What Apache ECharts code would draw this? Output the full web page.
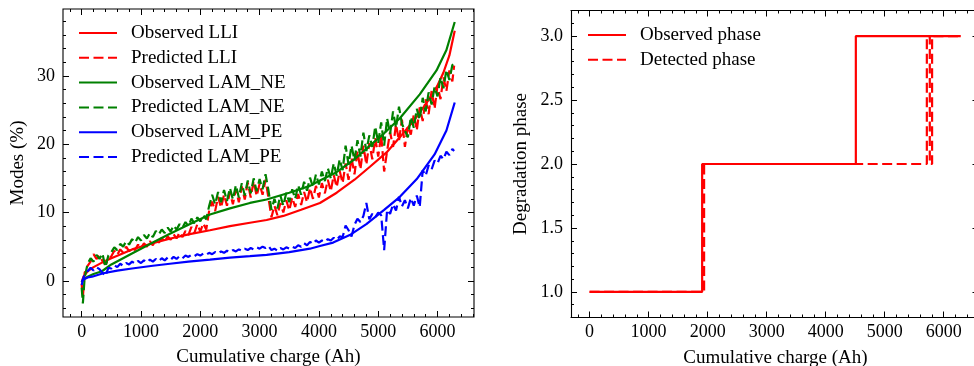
<!DOCTYPE html>
<html><head><meta charset="utf-8">
<script src="https://cdn.jsdelivr.net/npm/echarts@6/dist/echarts.min.js"></script>
<style>html,body{margin:0;padding:0;background:#fff}#c{width:974px;height:366px}</style>
</head><body><div id="c"></div>
<script>
// ---------------- data ----------------
const charge = [0,20,50,100,150,200,250,300,350,400,450,
500,550,600,650,700,750,800,850,900,950,
1000,1050,1100,1150,1200,1250,1300,1350,1400,1450,
1500,1550,1600,1650,1700,1750,1800,1850,1900,1950,
2000,2050,2100,2150,2200,2250,2300,2350,2400,2450,
2500,2550,2600,2650,2700,2750,2800,2850,2900,2950,
3000,3050,3100,3150,3200,3250,3300,3350,3400,3450,
3500,3550,3600,3650,3700,3750,3800,3850,3900,3950,
4000,4050,4100,4150,4200,4250,4300,4350,4400,4450,
4500,4550,4600,4650,4700,4750,4800,4850,4900,4950,
5000,5050,5100,5150,5200,5250,5300,5350,5400,5450,
5500,5550,5600,5650,5700,5750,5800,5850,5900,5950,
6000,6050,6100,6150,6200,6250,6280];

const predLLI = [-0.5,-2.4,1.2, 2.2,2.8,3.9,3.2,3.7,2.9,2.4,3.1,
3.6,4.4,3.8,4.6,4.1,5.0,4.3,4.9,4.5,5.3,
4.8,5.5,5.0,5.8,5.2,6.0,5.6,6.3,5.7,6.5,
6.0,6.8,6.2,7.1,6.4,7.3,6.7,7.9,7.0,8.3,
7.2,8.4,7.5,10.3,11.6,10.2,12.3,10.7,12.6,11.0,
13.0,11.2,13.4,11.5,13.8,11.9,14.4,12.2,14.6,12.4,
14.2,12.6,14.8,12.1,9.3,11.0,9.6,11.4,10.0,11.8,
10.3,12.2,10.8,12.7,11.1,13.0,11.5,13.6,12.0,13.9,
12.2,14.3,12.8,14.8,13.1,15.5,13.7,16.1,14.3,17.2,
14.8,18.0,15.6,18.9,16.3,19.8,17.0,20.2,17.8,20.9,
18.2,21.4,16.0,19.0,21.8,19.6,22.9,20.5,23.6,19.6,
22.6,21.4,24.4,22.0,25.4,23.4,26.6,24.4,27.8,25.2,
28.6,26.6,29.8,27.8,30.8,29.2,31.5];

const predNE = [-1.0,-3.3,0.5, 2.5,3.3,2.8,3.8,3.2,4.0,2.0,3.7,
4.2,4.9,4.5,5.4,5.0,5.8,5.3,6.1,5.6,6.4,
5.9,6.7,6.2,7.0,6.4,7.3,6.8,7.5,7.0,7.8,
7.2,8.1,7.5,8.3,7.8,8.6,8.0,9.1,8.4,9.3,
8.7,9.6,9.0,11.0,12.6,11.2,13.0,11.5,13.3,11.7,
13.6,11.9,14.0,12.2,14.3,12.5,14.7,12.8,15.0,13.1,
14.9,13.4,15.6,13.2,10.4,12.0,10.6,12.5,11.0,12.9,
11.5,13.4,12.0,14.0,12.6,14.5,13.2,15.1,13.7,15.6,
14.1,16.0,14.6,16.5,15.0,17.2,15.4,17.8,16.2,19.8,
17.0,19.8,17.6,20.6,18.2,21.7,19.0,21.3,19.6,22.6,
20.2,23.2,19.8,23.8,21.5,24.8,22.4,25.5,23.0,22.0,
21.0,24.0,22.4,25.2,23.6,26.8,24.8,27.6,25.8,28.4,
27.0,29.8,28.2,30.9,29.4,31.6,31.8];

const predPE = [-0.6,0.2,0.9, 1.4,1.9,1.5,2.0,1.7,1.2,0.7,1.9,
1.8,2.3,2.0,2.5,2.2,2.6,2.4,2.8,2.5,2.9,
2.6,3.0,2.7,3.1,2.8,3.2,2.9,3.3,3.0,3.4,
3.1,3.5,3.2,3.6,3.3,3.7,3.5,3.8,3.6,3.9,
3.7,4.0,3.8,4.1,3.9,4.2,4.0,4.3,4.1,4.4,
4.2,4.5,4.3,4.6,4.4,4.7,4.5,4.8,4.6,4.9,
4.7,5.0,4.8,5.1,4.5,4.7,4.4,4.8,4.6,4.9,
4.7,5.0,4.8,5.2,5.0,5.5,5.2,5.7,5.4,5.9,
5.6,5.9,5.7,6.1,5.9,6.3,6.0,6.5,6.4,8.1,
7.4,6.5,8.2,9.1,8.6,9.5,11.4,9.0,9.8,9.3,
10.0,9.6,4.5,10.4,9.8,11.2,10.3,12.3,10.9,11.8,
10.6,12.1,11.0,12.5,10.8,16.2,15.4,16.9,16.3,17.6,
17.2,18.3,17.8,18.9,18.4,19.3,19.0];

const obsLLI = [[0,-0.2],[30,0.6],[100,1.4],[200,2.0],[350,2.7],[500,3.3],[850,4.6],[1200,5.5],[1500,6.2],[1800,6.8],[2163,7.4],[2500,8.0],[2837,8.5],[3118,8.9],[3400,9.5],[3700,10.4],[4017,11.4],[4300,12.9],[4600,14.8],[4860,16.7],[5141,18.8],[5400,21.4],[5650,24.0],[5850,26.5],[6000,28.6],[6100,30.5],[6200,33.0],[6290,36.6]];
const obsNE = [[0,-0.2],[30,0.2],[100,0.6],[200,1.0],[342,1.4],[500,2.4],[848,4.0],[1200,5.6],[1488,6.9],[1800,8.2],[2163,9.7],[2500,10.6],[2837,11.4],[3118,11.9],[3500,12.9],[3848,13.9],[4017,14.7],[4298,15.9],[4600,17.8],[4860,19.8],[5100,21.6],[5365,23.8],[5700,27.3],[5983,30.8],[6150,33.8],[6290,37.9]];
const obsPE = [[0,-0.1],[30,0.2],[100,0.5],[174,0.6],[364,1.1],[600,1.5],[848,1.8],[1200,2.2],[1488,2.5],[1800,2.8],[2163,3.1],[2500,3.4],[2837,3.6],[3118,3.8],[3500,4.2],[3848,4.7],[4017,5.1],[4240,5.6],[4520,6.7],[4800,8.3],[5100,10.4],[5365,12.3],[5650,14.9],[5950,18.5],[6150,22.0],[6290,26.1]];

const phaseObsX = [0,1907,1907,4511,4511,6289];
const phaseObsY = [1,1,2,2,3,3];
const phaseDetX = [0,1940,1940,5714,5714,5764,5764,5803,5803,6289];
const phaseDetY = [1,1,2,2,3,3,2,2,3,3];

const xTicks = [0,1000,2000,3000,4000,5000,6000];
const modeTicks = [0,10,20,30];
const phaseTicks = [1.0,1.5,2.0,2.5,3.0];

// ---------------- styling ----------------
const FONT = '"Liberation Serif","DejaVu Serif",serif';
const RED = '#ff0000', GREEN = '#008000', BLUE = '#0000ff';
const LW = 2.2, DASH = [10, 4.5];

function minorsOf(min, max, step, majors) {
  const out = [];
  const start = Math.ceil(min / step - 1e-9) * step;
  for (let v = start; v <= max + 1e-9; v += step) {
    const r = Math.round(v * 100) / 100;
    if (!majors.some(m => Math.abs(m - r) < 1e-6)) out.push(r);
  }
  return out;
}

const xAxes = [], yAxes = [];
// spines: [showMainSideLine, showOppositeSideLine]; farTick: tick lengths on opposite side
function addAxes(list, dim, grid, min, max, majors, minorStep, name, nameGap, fmt, spines, farTick, namePad) {
  const pos = dim === 'x' ? ['bottom', 'top'] : ['left', 'right'];
  const minors = minorsOf(min, max, minorStep, majors);
  const base = { type: 'value', gridIndex: grid, min: min, max: max, splitLine: { show: false } };
  const al = (show) => ({ show: show, onZero: false, lineStyle: { color: '#000', width: 1.1 } });
  const tk = (vals, len) => ({ show: true, inside: true, length: len, customValues: vals,
    lineStyle: { color: '#000', width: 1 } });
  const first = list.length;
  const fMaj = farTick ? farTick[0] : 6, fMin = farTick ? farTick[1] : 3;
  list.push(Object.assign({}, base, {
    position: pos[0], name: name, nameLocation: 'middle', nameGap: nameGap,
    nameTextStyle: { fontFamily: FONT, fontSize: 19, color: '#000', padding: namePad || 0 },
    axisLine: al(spines[0]),
    axisTick: tk(majors, 6),
    axisLabel: { show: true, customValues: majors, margin: dim === 'x' ? 6 : 8,
      fontFamily: FONT, fontSize: 18, color: '#000', formatter: fmt }
  }));
  list.push(Object.assign({}, base, { position: pos[0], axisLine: al(false), axisTick: tk(minors, 3), axisLabel: { show: false } }));
  list.push(Object.assign({}, base, { position: pos[1], axisLine: al(spines[1]), axisTick: tk(majors, fMaj), axisLabel: { show: false } }));
  list.push(Object.assign({}, base, { position: pos[1], axisLine: al(false), axisTick: tk(minors, fMin), axisLabel: { show: false } }));
  return first;
}

// left panel: frame drawn by the grid
const gx0 = addAxes(xAxes, 'x', 0, -315, 6615, xTicks, 200, 'Cumulative charge (Ah)', 31, v => String(v), [false, false]);
const gy0 = addAxes(yAxes, 'y', 0, -5.3, 39.8, modeTicks, 2, 'Modes (%)', 35, v => String(v), [false, false]);
// right panel: its right spine lies just outside the picture, so the x range is cut at the canvas edge
const gx1 = addAxes(xAxes, 'x', 1, -315, 6513, xTicks, 200, 'Cumulative charge (Ah)', 31, v => String(v), [true, true], null, [0, 0, 0, 6]);
const gy1 = addAxes(yAxes, 'y', 1, 0.8, 3.2, phaseTicks, 0.1, 'Degradation phase', 40, v => v.toFixed(1), [true, false], [1.5, 0]);

const zip = (xs, ys) => xs.map((x, i) => [x, ys[i]]);

function line(name, data, color, dashed, xi, yi) {
  return { type: 'line', name: name, data: data, xAxisIndex: xi, yAxisIndex: yi,
    symbol: 'none', showSymbol: false, smooth: false, animation: false,
    lineStyle: { color: color, width: LW, type: dashed ? DASH : 'solid' },
    itemStyle: { color: color } };
}

const series = [
  line('Observed LLI', obsLLI, RED, false, gx0, gy0),
  line('Predicted LLI', zip(charge, predLLI), RED, true, gx0, gy0),
  line('Observed LAM_NE', obsNE, GREEN, false, gx0, gy0),
  line('Predicted LAM_NE', zip(charge, predNE), GREEN, true, gx0, gy0),
  line('Observed LAM_PE', obsPE, BLUE, false, gx0, gy0),
  line('Predicted LAM_PE', zip(charge, predPE), BLUE, true, gx0, gy0),
  line('Observed phase', zip(phaseObsX, phaseObsY), RED, false, gx1, gy1),
  line('Detected phase', zip(phaseDetX, phaseDetY), RED, true, gx1, gy1)
];

const legendText = { fontFamily: FONT, fontSize: 19, color: '#000', padding: [0, 0, 0, 9] };
const legendItem = { opacity: 0, borderWidth: 0 };

const option = {
  animation: false,
  backgroundColor: '#fff',
  grid: [
    { left: 63, top: 9, width: 411, height: 308, show: true, borderColor: '#000', borderWidth: 1.1,
      backgroundColor: 'transparent', outerBoundsMode: 'none', containLabel: false },
    { left: 571, top: 10.5, right: 0, height: 307, show: false,
      outerBoundsMode: 'none', containLabel: false }
  ],
  xAxis: xAxes,
  yAxis: yAxes,
  legend: [
    { data: ['Observed LLI','Predicted LLI','Observed LAM_NE','Predicted LAM_NE','Observed LAM_PE','Predicted LAM_PE'],
      orient: 'vertical', left: 78, top: 23.5, padding: 0, itemWidth: 38, itemHeight: 14, itemGap: 5.8,
      textStyle: legendText, itemStyle: legendItem, selectedMode: false },
    { data: ['Observed phase','Detected phase'],
      orient: 'vertical', left: 587, top: 25.5, padding: 0, itemWidth: 38, itemHeight: 14, itemGap: 5.8,
      textStyle: legendText, itemStyle: legendItem, selectedMode: false }
  ],
  series: series
};

const chart = echarts.init(document.getElementById('c'), null, { renderer: 'canvas' });
chart.setOption(option);
</script>
</body></html>
